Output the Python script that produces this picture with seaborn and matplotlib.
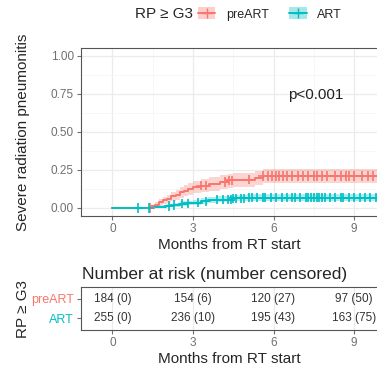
import numpy as np
import pandas as pd
import matplotlib
matplotlib.use("Agg")
import matplotlib.pyplot as plt
import seaborn as sns
from matplotlib.patches import Patch
from matplotlib.lines import Line2D
from matplotlib.legend_handler import HandlerTuple

# ---------------------------------------------------------------
# data
# ---------------------------------------------------------------
groups = ["preART", "ART"]
colors = {"preART": "#F8766D", "ART": "#00BFC4"}

pre_t = [0, 1.45, 1.6, 1.75, 1.9, 2.05, 2.2, 2.35, 2.5, 2.65, 2.8, 3.0, 3.3, 3.6, 4.0, 4.3, 4.5, 5.3, 5.6]
pre_v = [0, .011, .022, .038, .049, .060, .076, .087, .103, .114, .125, .136, .147, .158, .170, .181, .187, .199, .210]
pre_lo = [0, .002, .008, .018, .026, .034, .046, .055, .068, .077, .086, .095, .104, .114, .124, .134, .139, .150, .162]
pre_hi = [0, .020, .036, .058, .072, .086, .106, .119, .138, .151, .164, .177, .190, .202, .214, .224, .230, .242, .255]
pre_cens = [1.4, 3.3, 3.5, 4.2, 4.35, 4.45, 5.1, 5.6, 5.8, 5.95, 6.1, 6.2, 6.35, 6.5, 6.7, 6.9, 7.1, 7.3,
            7.5, 7.6, 7.8, 8.0, 8.3, 8.5, 8.7, 8.8, 9.0, 9.3, 9.5, 9.7]

art_t = [0, 1.55, 1.75, 2.0, 2.3, 2.5, 2.8, 3.0, 3.3, 3.55, 3.9, 4.5, 5.0]
art_v = [0, .004, .008, .012, .020, .027, .031, .035, .043, .051, .055, .063, .067]
art_lo = [0, .001, .002, .004, .009, .014, .017, .020, .026, .033, .036, .043, .046]
art_hi = [0, .011, .017, .024, .034, .043, .048, .053, .063, .072, .076, .086, .090]
art_cens = [0.95, 1.35, 2.1, 2.3, 2.6, 2.8, 3.2, 3.5, 3.9, 4.1, 4.3, 4.4, 4.5, 4.6, 4.8, 4.9, 5.1, 5.2,
            5.4, 5.6, 5.7, 5.9, 6.1, 6.3, 6.5, 6.7, 6.8, 7.0, 7.2, 7.3, 7.4, 7.5, 7.6, 7.7, 7.8, 7.9,
            8.1, 8.3, 8.5, 8.6, 8.8, 9.0, 9.2, 9.4, 9.6, 9.8]

t_end = 10.5

risk_times = [0, 3, 6, 9]
risk_pre = [184, 154, 120, 97]
cens_pre = [0, 6, 27, 50]
risk_art = [255, 236, 195, 163]
cens_art = [0, 10, 43, 75]

# ---------------------------------------------------------------
sns.set_style("whitegrid")
plt.rcParams["font.family"] = ["Liberation Sans", "DejaVu Sans"]

W, H = 377, 366
fig = plt.figure(figsize=(W / 100, H / 100), dpi=100)

grid_major = "#EBEBEB"
grid_minor = "#F4F4F4"
border = "#555555"
tick_col = "#707070"

curves = {
    "preART": (pre_t, pre_v, pre_lo, pre_hi, pre_cens),
    "ART": (art_t, art_v, art_lo, art_hi, art_cens),
}

rows = []
cens_rows = []
for g, (t, v, lo, hi, cs) in curves.items():
    tt = list(t) + [t_end]
    vv = list(v) + [v[-1]]
    for a, b in zip(tt, vv):
        rows.append({"time": a, "cuminc": b, "group": g})
    idx = np.searchsorted(t, cs, side="right") - 1
    for c, i in zip(cs, idx):
        cens_rows.append({"time": c, "cuminc": v[i], "group": g})
df = pd.DataFrame(rows)
df_cens = pd.DataFrame(cens_rows)

# ---------------------------------------------------------------
# main panel
# ---------------------------------------------------------------
ax = fig.add_axes([80.7 / W, 1 - 216 / H, 1 - 80.7 / W, (216 - 48.3) / H])
for g, (t, v, lo, hi, cs) in curves.items():
    tt = list(t) + [t_end]
    ax.fill_between(tt, list(lo) + [lo[-1]], list(hi) + [hi[-1]], step="post",
                    color=colors[g], alpha=0.3, lw=0)
sns.lineplot(data=df, x="time", y="cuminc", hue="group", palette=colors, estimator=None,
             drawstyle="steps-post", lw=1.4, legend=False, ax=ax)
sns.scatterplot(data=df_cens, x="time", y="cuminc", hue="group", palette=colors, marker="+",
                s=45, linewidth=1.2, legend=False, ax=ax, zorder=3)

ax.set_xlim(-1.18, (W - 112.3) / 26.87)
ax.set_ylim(-0.053, 1.05)
ax.set_xticks([0, 3, 6, 9])
ax.set_xticks([1.5, 4.5, 7.5], minor=True)
ax.set_yticks([0, 0.25, 0.5, 0.75, 1.0])
ax.set_yticks([0.125, 0.375, 0.625, 0.875], minor=True)
ax.set_yticklabels(["0.00", "0.25", "0.50", "0.75", "1.00"])
ax.grid(which="major", color=grid_major, lw=0.9)
ax.grid(which="minor", color=grid_minor, lw=0.5)
ax.tick_params(which="major", length=3, width=0.8, color=tick_col, labelsize=8.5,
               labelcolor=tick_col, pad=2, left=True, bottom=True)
ax.tick_params(which="minor", length=0)
for side in ["left", "top", "bottom"]:
    ax.spines[side].set_color(border)
    ax.spines[side].set_linewidth(0.8)
ax.spines["right"].set_visible(False)
ax.set_xlabel("Months from RT start", fontsize=11, labelpad=2)
ax.set_ylabel("Severe radiation pneumonitis", fontsize=11)
ax.yaxis.set_label_coords(-0.172, 0.5)
ax.text(7.58, 0.745, "p<0.001", ha="center", va="center", fontsize=11, color="#222222")

# legend on top
handles = []
for g in groups:
    handles.append((Patch(facecolor=colors[g], alpha=0.35, edgecolor="none"),
                    Line2D([], [], color=colors[g], lw=1.4, marker="+", markersize=7)))
fig.text(135 / W, 1 - 14 / H, "RP \u2265 G3", fontsize=11, va="center", ha="left")
fig.legend(handles, groups, handler_map={tuple: HandlerTuple(ndivide=1)},
           loc="center left", bbox_to_anchor=(198 / W, 1 - 14 / H), ncol=2, frameon=False,
           fontsize=9, handlelength=1.4, handleheight=1.1, handletextpad=0.85,
           columnspacing=1.6, borderaxespad=0, borderpad=0)

# ---------------------------------------------------------------
# risk table
# ---------------------------------------------------------------
ax2 = fig.add_axes([80.7 / W, 1 - 330 / H, 1 - 80.7 / W, 43 / H])
ax2.set_xlim(ax.get_xlim())
ax2.set_ylim(0.4, 2.6)
for i, tm in enumerate(risk_times):
    ax2.text(tm, 2, f"{risk_pre[i]} ({cens_pre[i]})", ha="center", va="center", fontsize=8.5, color="#333333")
    ax2.text(tm, 1, f"{risk_art[i]} ({cens_art[i]})", ha="center", va="center", fontsize=8.5, color="#333333")
ax2.set_xticks(risk_times)
ax2.set_yticks([2, 1])
ax2.set_yticklabels(groups)
ax2.grid(axis="x", color=grid_major, lw=0.9)
ax2.grid(axis="y", visible=False)
ax2.tick_params(length=3, width=0.8, color=tick_col, labelsize=8.5, labelcolor=tick_col, pad=2,
                left=True, bottom=True)
ax2.tick_params(axis="y", labelsize=9)
for lab, g in zip(ax2.get_yticklabels(), groups):
    lab.set_color(colors[g])
for side in ["left", "top", "bottom"]:
    ax2.spines[side].set_color(border)
    ax2.spines[side].set_linewidth(0.8)
ax2.spines["right"].set_visible(False)
ax2.set_xlabel("Months from RT start", fontsize=11, labelpad=2)
ax2.set_ylabel("RP \u2265 G3", fontsize=11)
ax2.yaxis.set_label_coords(-0.172, 0.5)
fig.text(82 / W, 1 - 275 / H, "Number at risk (number censored)", fontsize=12.5, ha="left", va="center")

fig.savefig("out.png", dpi=100)
